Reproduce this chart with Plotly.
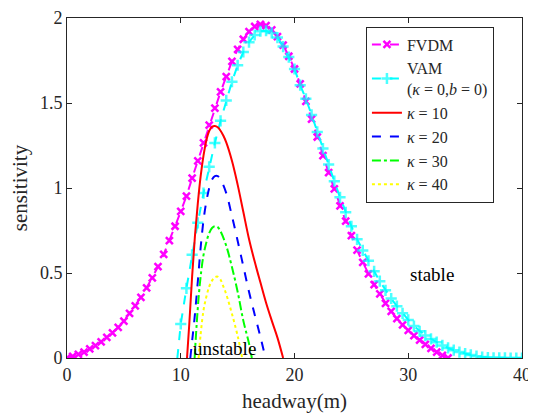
import plotly.graph_objects as go

# ---------------- data ----------------
fvdm_x = [0, 0.5, 1, 1.5, 2, 2.5, 3, 3.5, 4, 4.5, 5, 5.5, 6, 6.5, 7, 7.5, 8, 8.5, 9, 9.5,
          10, 10.5, 11, 11.5, 12, 12.5, 13, 13.5, 14, 14.5, 15, 15.5, 16, 16.5, 17, 17.5,
          18, 18.5, 19, 19.5, 20, 20.5, 21, 21.5, 22, 22.5, 23, 23.5, 24, 24.5, 25, 25.5,
          26, 26.5, 27, 27.5, 28, 28.5, 29, 29.5, 30, 30.5, 31, 31.5, 32, 32.5, 33, 33.5]
fvdm_y = [0.0, 0.01, 0.022, 0.035, 0.053, 0.073, 0.095, 0.122, 0.148, 0.18, 0.217, 0.262,
          0.307, 0.357, 0.413, 0.472, 0.537, 0.61, 0.69, 0.775, 0.862, 0.952, 1.058, 1.16,
          1.265, 1.37, 1.47, 1.565, 1.655, 1.745, 1.815, 1.875, 1.92, 1.95, 1.962, 1.955,
          1.93, 1.89, 1.84, 1.775, 1.70, 1.612, 1.51, 1.405, 1.30, 1.19, 1.09, 0.995, 0.895,
          0.805, 0.72, 0.635, 0.563, 0.495, 0.432, 0.377, 0.322, 0.274, 0.232, 0.195, 0.162,
          0.132, 0.105, 0.08, 0.057, 0.035, 0.015, 0.0]

vam_x = [9.7, 10, 10.5, 11, 11.5, 12, 12.5, 13, 13.5, 14, 14.5, 15, 15.5, 16, 16.5, 17,
         17.5, 18, 18.5, 19, 19.5, 20, 20.5, 21, 21.5, 22, 22.5, 23, 23.5, 24, 24.5, 25,
         25.5, 26, 26.5, 27, 27.5, 28, 28.5, 29, 29.5, 30, 30.5, 31, 31.5, 32, 32.5, 33,
         33.5, 34, 34.5, 35, 35.5, 36, 36.5, 37, 37.5, 38, 38.5, 39, 39.5, 40]
vam_y = [0.0, 0.20, 0.41, 0.607, 0.795, 0.97, 1.125, 1.265, 1.395, 1.515, 1.625, 1.722,
         1.80, 1.858, 1.90, 1.922, 1.925, 1.912, 1.885, 1.832, 1.77, 1.70, 1.605, 1.525,
         1.43, 1.33, 1.232, 1.138, 1.04, 0.945, 0.857, 0.775, 0.698, 0.633, 0.572, 0.51,
         0.452, 0.398, 0.35, 0.305, 0.263, 0.224, 0.188, 0.157, 0.132, 0.112, 0.093, 0.074,
         0.059, 0.046, 0.035, 0.026, 0.018, 0.011, 0.006, 0.003, 0.0015, 0.001, 0.0005,
         0.0, 0.0, 0.0]

k10_x = [10.55, 10.75, 11.0, 11.25, 11.5, 11.75, 12.0, 12.25, 12.5, 12.75, 13.0, 13.25,
         13.5, 13.75, 14.0, 14.5, 15.0, 15.5, 16.0, 16.5, 17.0, 17.5, 18.0, 18.5, 19.0]
k10_y = [0.0, 0.2, 0.48, 0.72, 0.91, 1.07, 1.19, 1.28, 1.335, 1.36, 1.365, 1.357, 1.337,
         1.307, 1.268, 1.16, 1.02, 0.86, 0.70, 0.567, 0.445, 0.325, 0.22, 0.12, 0.0]

k20_x = [10.84, 11.0, 11.25, 11.5, 11.75, 12.0, 12.25, 12.5, 12.75, 13.0, 13.25, 13.5,
         14.0, 14.5, 15.0, 15.5, 16.0, 16.5, 17.0, 17.45]
k20_y = [0.0, 0.1, 0.26, 0.45, 0.65, 0.81, 0.92, 1.0, 1.05, 1.07, 1.07, 1.05, 0.97, 0.835,
         0.69, 0.54, 0.39, 0.255, 0.125, 0.0]

k30_x = [11.22, 11.4, 11.6, 11.8, 12.0, 12.25, 12.5, 12.75, 13.0, 13.25, 13.5, 14.0, 14.5,
         15.0, 15.5, 16.0, 16.25]
k30_y = [0.0, 0.2, 0.38, 0.51, 0.605, 0.68, 0.735, 0.765, 0.775, 0.77, 0.745, 0.66, 0.535,
         0.39, 0.22, 0.085, 0.0]

k40_x = [11.57, 11.75, 12.0, 12.25, 12.5, 12.75, 13.0, 13.25, 13.5, 13.75, 14.0, 14.5, 15.0, 15.4]
k40_y = [0.0, 0.14, 0.28, 0.36, 0.42, 0.455, 0.475, 0.478, 0.46, 0.42, 0.375, 0.26, 0.13, 0.0]

x_ticks = [0, 10, 20, 30, 40]
y_ticks = [0, 0.5, 1, 1.5, 2]

SERIF = "Liberation Serif, Times New Roman, serif"
AX = "#262626"

fig = go.Figure()

fig.add_trace(go.Scatter(
    x=fvdm_x, y=fvdm_y, mode="lines+markers", name="FVDM",
    line=dict(color="#FF00FF", width=2, dash="dash"),
    marker=dict(symbol="x-thin", size=7, line=dict(color="#FF00FF", width=2.5)),
))
fig.add_trace(go.Scatter(
    x=vam_x, y=vam_y, mode="lines+markers",
    name="VAM<br>(<i>κ</i> = 0,<i>b</i> = 0)",
    line=dict(color="#00FFFF", width=2, dash="dash"),
    marker=dict(symbol="cross-thin", size=[0] + [8] * (len(vam_x) - 1),
                line=dict(color="#00FFFF", width=2.5)),
))
fig.add_trace(go.Scatter(
    x=k10_x, y=k10_y, mode="lines", name="<i>κ</i> = 10", line_shape="spline",
    line=dict(color="#FF0000", width=2),
))
fig.add_trace(go.Scatter(
    x=k20_x, y=k20_y, mode="lines", name="<i>κ</i> = 20", line_shape="spline",
    line=dict(color="#0000FF", width=2, dash="dash"),
))
fig.add_trace(go.Scatter(
    x=k30_x, y=k30_y, mode="lines", name="<i>κ</i> = 30", line_shape="spline",
    line=dict(color="#00FF00", width=2, dash="dashdot"),
))
fig.add_trace(go.Scatter(
    x=k40_x, y=k40_y, mode="lines", name="<i>κ</i> = 40", line_shape="spline",
    line=dict(color="#FFFF00", width=2, dash="dot"),
))

fig.add_annotation(x=32.1, y=0.49, text="stable", showarrow=False,
                   font=dict(family=SERIF, size=19, color="black"))
fig.add_annotation(x=13.85, y=0.0, yanchor="bottom", text="unstable", showarrow=False,
                   font=dict(family=SERIF, size=19, color="black"), yshift=-3)

axis_common = dict(
    showline=True, linecolor=AX, linewidth=1, mirror="ticks",
    ticks="inside", ticklen=5, tickcolor=AX, tickwidth=1,
    showgrid=False, zeroline=False, automargin=False,
    tickfont=dict(family=SERIF, size=18, color=AX),
)

# the page body has an 8px default margin, so the figure is sized to fit the window
fig.update_layout(
    width=528, height=405,
    margin=dict(l=59, r=14, t=10, b=55),
    paper_bgcolor="white", plot_bgcolor="white",
    showlegend=True,
    legend=dict(
        x=0.657, y=0.975, xanchor="left", yanchor="top",
        bgcolor="white", bordercolor=AX, borderwidth=1,
        font=dict(family=SERIF, size=16, color=AX),
        tracegroupgap=0, itemwidth=30,
    ),
    xaxis=dict(range=[0, 40], tickvals=x_ticks,
               title=dict(text="headway(m)", font=dict(family=SERIF, size=21, color=AX)),
               **axis_common),
    yaxis=dict(range=[0, 2], tickvals=y_ticks, ticktext=["0", "0.5", "1", "1.5", "2"],
               title=dict(text="sensitivity", font=dict(family=SERIF, size=21, color=AX)),
               **axis_common),
)

fig.write_html("out.html")
